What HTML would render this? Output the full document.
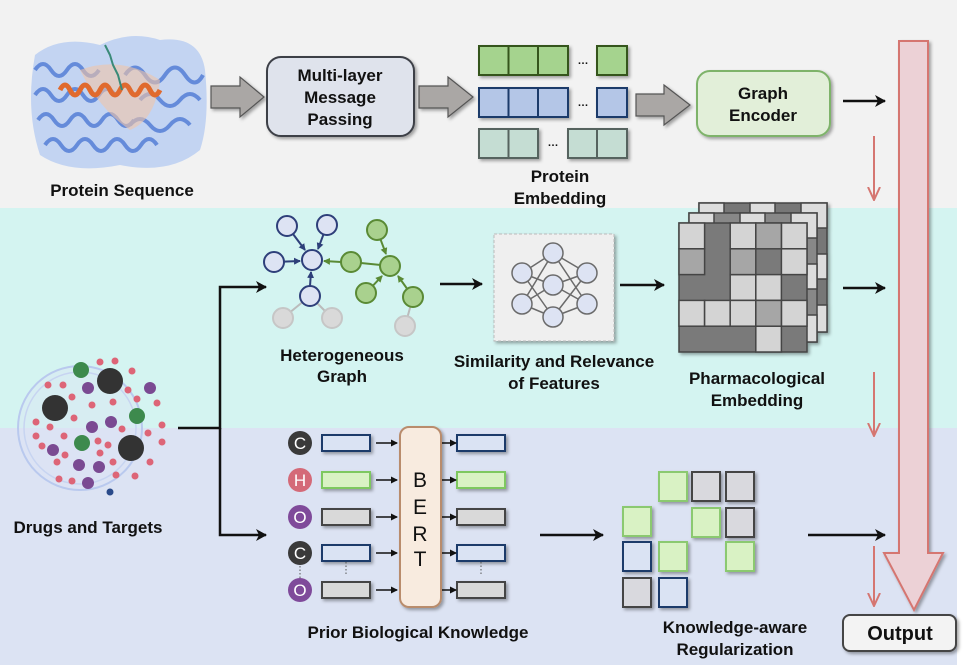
<!DOCTYPE html>
<html><head><meta charset="utf-8"><style>
body{margin:0;background:#fff}
svg{display:block}
text{font-family:"Liberation Sans",Arial,sans-serif;font-weight:bold;font-size:17px;fill:#111;text-anchor:middle}
</style></head><body>
<svg width="969" height="665" viewBox="0 0 969 665">
<defs>
<marker id="ah" markerWidth="11" markerHeight="12" refX="10" refY="6" orient="auto" markerUnits="userSpaceOnUse"><path d="M0,0 L11,6 L0,12 L3,6Z" fill="#111"/></marker>
<marker id="as" markerWidth="7" markerHeight="7" refX="6" refY="3.5" orient="auto" markerUnits="userSpaceOnUse"><path d="M0,0 L7,3.5 L0,7Z" fill="#111"/></marker>
<marker id="ar" markerWidth="14" markerHeight="14" refX="13" refY="7" orient="auto" markerUnits="userSpaceOnUse"><path d="M0,1 L13,7 L0,13" fill="none" stroke="#d57671" stroke-width="2"/></marker>
<marker id="nb" markerWidth="7" markerHeight="7" refX="6" refY="3.5" orient="auto" markerUnits="userSpaceOnUse"><path d="M0,0 L7,3.5 L0,7Z" fill="#2e3f7a"/></marker>
<marker id="ng" markerWidth="7" markerHeight="7" refX="6" refY="3.5" orient="auto" markerUnits="userSpaceOnUse"><path d="M0,0 L7,3.5 L0,7Z" fill="#5a8a35"/></marker>
<filter id="sh" x="-20%" y="-20%" width="140%" height="140%"><feDropShadow dx="2" dy="2" stdDeviation="1.5" flood-opacity="0.35"/></filter>
</defs>
<rect x="0" y="0" width="957" height="208" fill="#f2f2f2"/>
<rect x="0" y="208" width="957" height="220" fill="#d4f4f1"/>
<rect x="0" y="428" width="957" height="237" fill="#dce3f3"/>

<g>
<path d="M35,55 Q60,35 100,45 Q130,30 160,40 Q200,35 205,70 Q210,120 200,150 Q170,175 120,165 Q70,175 40,155 Q25,110 35,55Z" fill="#c3d4f2"/>
<g fill="none" stroke="#5b84d8" stroke-width="4" opacity="0.9">
<path d="M35,70 q8,-12 16,0 t16,0 t16,0 t16,0"/>
<path d="M35,95 q8,-12 16,0 t16,0 t16,0 t16,0 t16,0"/>
<path d="M38,120 q8,-12 16,0 t16,0 t16,0 t16,0 t16,0 t16,0"/>
<path d="M45,145 q8,-12 16,0 t16,0 t16,0 t16,0 t16,0 t16,0 t16,0"/>
<path d="M125,75 q10,-15 20,0 t20,0 t20,0 t18,0"/>
<path d="M140,100 q10,-12 20,0 t20,0 t20,0"/>
<path d="M130,125 q10,-12 20,0 t20,0 t20,0"/>
</g>
<path d="M80,70 Q120,55 160,80 Q155,120 130,130 Q100,110 80,70Z" fill="#f0c4a8" opacity="0.6"/>
<path d="M60,90 q5,-10 10,0 t10,0 t10,0 t10,0 t10,0 t10,0 t10,0 t10,0 t10,0 t10,0" fill="none" stroke="#e06a2e" stroke-width="5"/>
<path d="M105,45 l5,10 l3,10 l5,10 l4,15" fill="none" stroke="#3a8a78" stroke-width="2"/>
</g>
<text x="122" y="196">Protein Sequence</text>

<g fill="#aaa7a5" stroke="#555" stroke-width="1.2" filter="url(#sh)">
<path d="M211,86 H240 V77 L264,97 L240,117 V108 H211Z"/>
<path d="M419,86 H448 V77 L473,97 L448,117 V108 H419Z"/>
<path d="M636,94 H664 V85 L690,105 L664,125 V116 H636Z"/>
</g>
<rect x="267" y="57" width="147" height="79" rx="14" fill="#dfe3ec" stroke="#3d3f47" stroke-width="2" filter="url(#sh)"/>
<text x="340" y="81">Multi-layer</text><text x="340" y="103">Message</text><text x="340" y="125">Passing</text>

<g stroke-width="2" filter="url(#sh)">
<g fill="#a5d38e" stroke="#35541f"><rect x="479" y="46" width="29.5" height="29"/><rect x="508.5" y="46" width="29.5" height="29"/><rect x="538" y="46" width="30" height="29"/><rect x="597" y="46" width="30" height="29"/></g>
<g fill="#b4c6e7" stroke="#1f3a6b"><rect x="479" y="88" width="29.5" height="29"/><rect x="508.5" y="88" width="29.5" height="29"/><rect x="538" y="88" width="30" height="29"/><rect x="597" y="88" width="30" height="29"/></g>
<g fill="#c5ddd3" stroke="#56645f"><rect x="479" y="129" width="29.5" height="29"/><rect x="508.5" y="129" width="29.5" height="29"/><rect x="568" y="129" width="29" height="29"/><rect x="597" y="129" width="30" height="29"/></g>
</g>
<text x="583" y="64" style="font-size:11px">…</text><text x="583" y="106" style="font-size:11px">…</text><text x="553" y="146" style="font-size:11px">…</text>
<text x="560" y="182">Protein</text><text x="560" y="204">Embedding</text>

<rect x="697" y="71" width="133" height="65" rx="13" fill="#e2efd9" stroke="#7eb36a" stroke-width="2" filter="url(#sh)"/>
<text x="763" y="99">Graph</text><text x="763" y="121">Encoder</text>

<path d="M899,41 H928 V553 H943 L914,610 L884,553 H899Z" fill="#ecd1d6" stroke="#d57671" stroke-width="2" filter="url(#sh)"/>
<rect x="843" y="615" width="113" height="36" rx="7" fill="#f3f3f3" stroke="#444" stroke-width="2" filter="url(#sh)"/>
<text x="900" y="640" style="font-size:20px">Output</text>

<g stroke="#111" stroke-width="2.5" fill="none" marker-end="url(#ah)">
<line x1="843" y1="101" x2="885" y2="101"/>
<line x1="843" y1="288" x2="885" y2="288"/>
<line x1="808" y1="535" x2="885" y2="535"/>
<line x1="440" y1="284" x2="482" y2="284"/>
<line x1="620" y1="285" x2="664" y2="285"/>
<line x1="540" y1="535" x2="603" y2="535"/>
<polyline points="178,428 220,428 220,287 266,287"/>
<polyline points="220,428 220,535 266,535"/>
</g>
<g stroke="#d57671" stroke-width="2" marker-end="url(#ar)">
<line x1="874" y1="136" x2="874" y2="200"/>
<line x1="874" y1="372" x2="874" y2="436"/>
<line x1="874" y1="546" x2="874" y2="606"/>
</g>

<g stroke-width="2">
<g stroke="#bbb"><line x1="310" y1="296" x2="283" y2="318"/><line x1="310" y1="296" x2="332" y2="318"/><line x1="413" y1="297" x2="405" y2="326"/></g>
<g stroke="#2e3f7a" marker-end="url(#nb)"><line x1="287" y1="226" x2="305" y2="250"/><line x1="327" y1="225" x2="318" y2="249"/><line x1="274" y1="262" x2="300" y2="261"/><line x1="310" y1="286" x2="311" y2="272"/></g>
<g stroke="#5a8a35"><line x1="351" y1="262" x2="390" y2="266"/></g>
<g stroke="#5a8a35" marker-end="url(#ng)"><line x1="341" y1="262" x2="324" y2="261"/><line x1="377" y1="230" x2="386" y2="254"/><line x1="366" y1="293" x2="382" y2="276"/><line x1="413" y1="297" x2="398" y2="276"/></g>
<g fill="#dde3f3" stroke="#2e3f7a"><circle cx="287" cy="226" r="10"/><circle cx="327" cy="225" r="10"/><circle cx="274" cy="262" r="10"/><circle cx="312" cy="260" r="10"/><circle cx="310" cy="296" r="10"/></g>
<g fill="#a9d18e" stroke="#5a8a35"><circle cx="377" cy="230" r="10"/><circle cx="351" cy="262" r="10"/><circle cx="390" cy="266" r="10"/><circle cx="366" cy="293" r="10"/><circle cx="413" cy="297" r="10"/></g>
<g fill="#d9d9d9" stroke="#c6c6c6"><circle cx="283" cy="318" r="10"/><circle cx="332" cy="318" r="10"/><circle cx="405" cy="326" r="10"/></g>
</g>
<text x="342" y="361">Heterogeneous</text><text x="342" y="382">Graph</text>

<rect x="494" y="234" width="120" height="107" fill="#efefef" stroke="#bbb" stroke-dasharray="3,2" filter="url(#sh)"/>
<g stroke="#6b6b6b" stroke-width="1.5">
<path d="M522,273 L553,253 M522,273 L553,285 M522,273 L553,317 M522,304 L553,253 M522,304 L553,285 M522,304 L553,317 M553,253 L587,273 M553,253 L587,304 M553,285 L587,273 M553,285 L587,304 M553,317 L587,273 M553,317 L587,304"/>
<g fill="#dde3f3"><circle cx="522" cy="273" r="10"/><circle cx="522" cy="304" r="10"/><circle cx="553" cy="253" r="10"/><circle cx="553" cy="285" r="10"/><circle cx="553" cy="317" r="10"/><circle cx="587" cy="273" r="10"/><circle cx="587" cy="304" r="10"/></g>
</g>
<text x="554" y="367">Similarity and Relevance</text><text x="554" y="389">of Features</text>

<g stroke="#444" stroke-width="1.5" filter="url(#sh)">
<g transform="translate(20,-20)"><rect x="679" y="223" width="128" height="129" fill="#777"/><g fill="#ddd"><rect x="679" y="223" width="25" height="25"/><rect x="730" y="223" width="25" height="25"/><rect x="781" y="223" width="26" height="25"/><rect x="781" y="274" width="26" height="25"/><rect x="781" y="325" width="26" height="27"/></g></g>
<g transform="translate(10,-10)"><rect x="679" y="223" width="128" height="129" fill="#888"/><g fill="#ddd"><rect x="679" y="223" width="25" height="25"/><rect x="730" y="223" width="25" height="25"/><rect x="781" y="223" width="26" height="25"/><rect x="781" y="274" width="26" height="25"/><rect x="781" y="325" width="26" height="27"/></g></g>
<rect x="679" y="223" width="128" height="129" fill="#7a7a7a"/>
<g fill="#d4d4d4">
<rect x="679" y="223" width="25.6" height="25.8"/><rect x="730.2" y="223" width="25.6" height="25.8"/><rect x="781.4" y="223" width="25.6" height="25.8"/>
<rect x="781.4" y="248.8" width="25.6" height="25.8"/>
<rect x="730.2" y="274.6" width="25.6" height="25.8"/><rect x="755.8" y="274.6" width="25.6" height="25.8"/>
<rect x="679" y="300.4" width="25.6" height="25.8"/><rect x="704.6" y="300.4" width="25.6" height="25.8"/><rect x="730.2" y="300.4" width="25.6" height="25.8"/><rect x="781.4" y="300.4" width="25.6" height="25.8"/>
<rect x="755.8" y="326.2" width="25.6" height="25.8"/></g>
<g fill="#a6a6a6"><rect x="755.8" y="223" width="25.6" height="25.8"/><rect x="679" y="248.8" width="25.6" height="25.8"/><rect x="730.2" y="248.8" width="25.6" height="25.8"/><rect x="755.8" y="300.4" width="25.6" height="25.8"/></g>
</g>
<text x="757" y="384">Pharmacological</text><text x="757" y="406">Embedding</text>

<circle cx="80" cy="428" r="62" fill="#dce3f5" fill-opacity="0.4" stroke="#b9c9ee" stroke-width="2"/>
<circle cx="80" cy="428" r="56" fill="none" stroke="#c7d4f1" stroke-width="1.5"/>
<g fill="#dd6577">
<circle cx="100" cy="362" r="3.5"/><circle cx="115" cy="361" r="3.5"/><circle cx="132" cy="371" r="3.5"/><circle cx="48" cy="385" r="3.5"/><circle cx="63" cy="385" r="3.5"/><circle cx="72" cy="397" r="3.5"/><circle cx="128" cy="390" r="3.5"/><circle cx="137" cy="399" r="3.5"/><circle cx="157" cy="403" r="3.5"/><circle cx="92" cy="405" r="3.5"/><circle cx="113" cy="402" r="3.5"/><circle cx="74" cy="418" r="3.5"/><circle cx="36" cy="422" r="3.5"/><circle cx="50" cy="427" r="3.5"/><circle cx="122" cy="429" r="3.5"/><circle cx="162" cy="425" r="3.5"/><circle cx="36" cy="436" r="3.5"/><circle cx="64" cy="436" r="3.5"/><circle cx="98" cy="441" r="3.5"/><circle cx="108" cy="445" r="3.5"/><circle cx="148" cy="433" r="3.5"/><circle cx="162" cy="442" r="3.5"/><circle cx="42" cy="446" r="3.5"/><circle cx="100" cy="453" r="3.5"/><circle cx="65" cy="455" r="3.5"/><circle cx="57" cy="462" r="3.5"/><circle cx="113" cy="462" r="3.5"/><circle cx="150" cy="462" r="3.5"/><circle cx="116" cy="475" r="3.5"/><circle cx="135" cy="476" r="3.5"/><circle cx="59" cy="479" r="3.5"/><circle cx="72" cy="481" r="3.5"/>
</g>
<g fill="#7a4a92"><circle cx="88" cy="388" r="6"/><circle cx="150" cy="388" r="6"/><circle cx="92" cy="427" r="6"/><circle cx="111" cy="422" r="6"/><circle cx="53" cy="450" r="6"/><circle cx="79" cy="465" r="6"/><circle cx="99" cy="467" r="6"/><circle cx="88" cy="483" r="6"/></g>
<g fill="#3d8a4d"><circle cx="81" cy="370" r="8"/><circle cx="137" cy="416" r="8"/><circle cx="82" cy="443" r="8"/></g>
<g fill="#333"><circle cx="110" cy="381" r="13"/><circle cx="55" cy="408" r="13"/><circle cx="131" cy="448" r="13"/></g>
<circle cx="110" cy="492" r="3.5" fill="#2a4a8a"/>
<text x="88" y="533">Drugs and Targets</text>

<circle cx="300" cy="443" r="12" fill="#3a3a3a"/><circle cx="300" cy="480" r="12" fill="#d46a78"/><circle cx="300" cy="517" r="12" fill="#7f4a9a"/><circle cx="300" cy="553" r="12" fill="#3a3a3a"/><circle cx="300" cy="590" r="12" fill="#7f4a9a"/>
<text x="300" y="449" style="fill:#fff;font-weight:normal">C</text><text x="300" y="486" style="fill:#fff;font-weight:normal">H</text><text x="300" y="523" style="fill:#fff;font-weight:normal">O</text><text x="300" y="559" style="fill:#fff;font-weight:normal">C</text><text x="300" y="596" style="fill:#fff;font-weight:normal">O</text>
<g stroke-width="2" filter="url(#sh)">
<rect x="322" y="435" width="48" height="16" fill="#dae3f3" stroke="#1f3a6b"/><rect x="322" y="472" width="48" height="16" fill="#d9f2c4" stroke="#7ec860"/><rect x="322" y="509" width="48" height="16" fill="#d9d9d9" stroke="#444"/><rect x="322" y="545" width="48" height="16" fill="#dae3f3" stroke="#1f3a6b"/><rect x="322" y="582" width="48" height="16" fill="#d9d9d9" stroke="#444"/>
<rect x="457" y="435" width="48" height="16" fill="#dae3f3" stroke="#1f3a6b"/><rect x="457" y="472" width="48" height="16" fill="#d9f2c4" stroke="#7ec860"/><rect x="457" y="509" width="48" height="16" fill="#d9d9d9" stroke="#444"/><rect x="457" y="545" width="48" height="16" fill="#dae3f3" stroke="#1f3a6b"/><rect x="457" y="582" width="48" height="16" fill="#d9d9d9" stroke="#444"/>
</g>
<g stroke="#111" stroke-width="1.5" marker-end="url(#as)">
<line x1="376" y1="443" x2="397" y2="443"/><line x1="376" y1="480" x2="397" y2="480"/><line x1="376" y1="517" x2="397" y2="517"/><line x1="376" y1="553" x2="397" y2="553"/><line x1="376" y1="590" x2="397" y2="590"/>
<line x1="435" y1="443" x2="456" y2="443"/><line x1="435" y1="480" x2="456" y2="480"/><line x1="435" y1="517" x2="456" y2="517"/><line x1="435" y1="553" x2="456" y2="553"/><line x1="435" y1="590" x2="456" y2="590"/>
</g>
<rect x="400" y="427" width="41" height="180" rx="9" fill="#f8ebdf" stroke="#b98c6c" stroke-width="2" filter="url(#sh)"/>
<text x="420" y="487" style="font-weight:normal;font-size:21px">B</text><text x="420" y="514" style="font-weight:normal;font-size:21px">E</text><text x="420" y="541" style="font-weight:normal;font-size:21px">R</text><text x="420" y="566" style="font-weight:normal;font-size:21px">T</text>
<g stroke="#555" stroke-dasharray="1.5,2" stroke-width="1"><line x1="300" y1="566" x2="300" y2="578"/><line x1="346" y1="562" x2="346" y2="576"/><line x1="481" y1="562" x2="481" y2="576"/></g>
<text x="418" y="638">Prior Biological Knowledge</text>

<g stroke-width="2" filter="url(#sh)">
<g fill="#d9f2c4" stroke="#8bc96f"><rect x="659" y="472" width="28" height="29"/><rect x="623" y="507" width="28" height="29"/><rect x="692" y="508" width="28" height="29"/><rect x="659" y="542" width="28" height="29"/><rect x="726" y="542" width="28" height="29"/></g>
<g fill="#d9d9de" stroke="#444"><rect x="692" y="472" width="28" height="29"/><rect x="726" y="472" width="28" height="29"/><rect x="726" y="508" width="28" height="29"/><rect x="623" y="578" width="28" height="29"/></g>
<g fill="#dae3f3" stroke="#1f3a6b"><rect x="623" y="542" width="28" height="29"/><rect x="659" y="578" width="28" height="29"/></g>
</g>
<text x="735" y="633">Knowledge-aware</text><text x="735" y="655">Regularization</text>
</svg>
</body></html>
